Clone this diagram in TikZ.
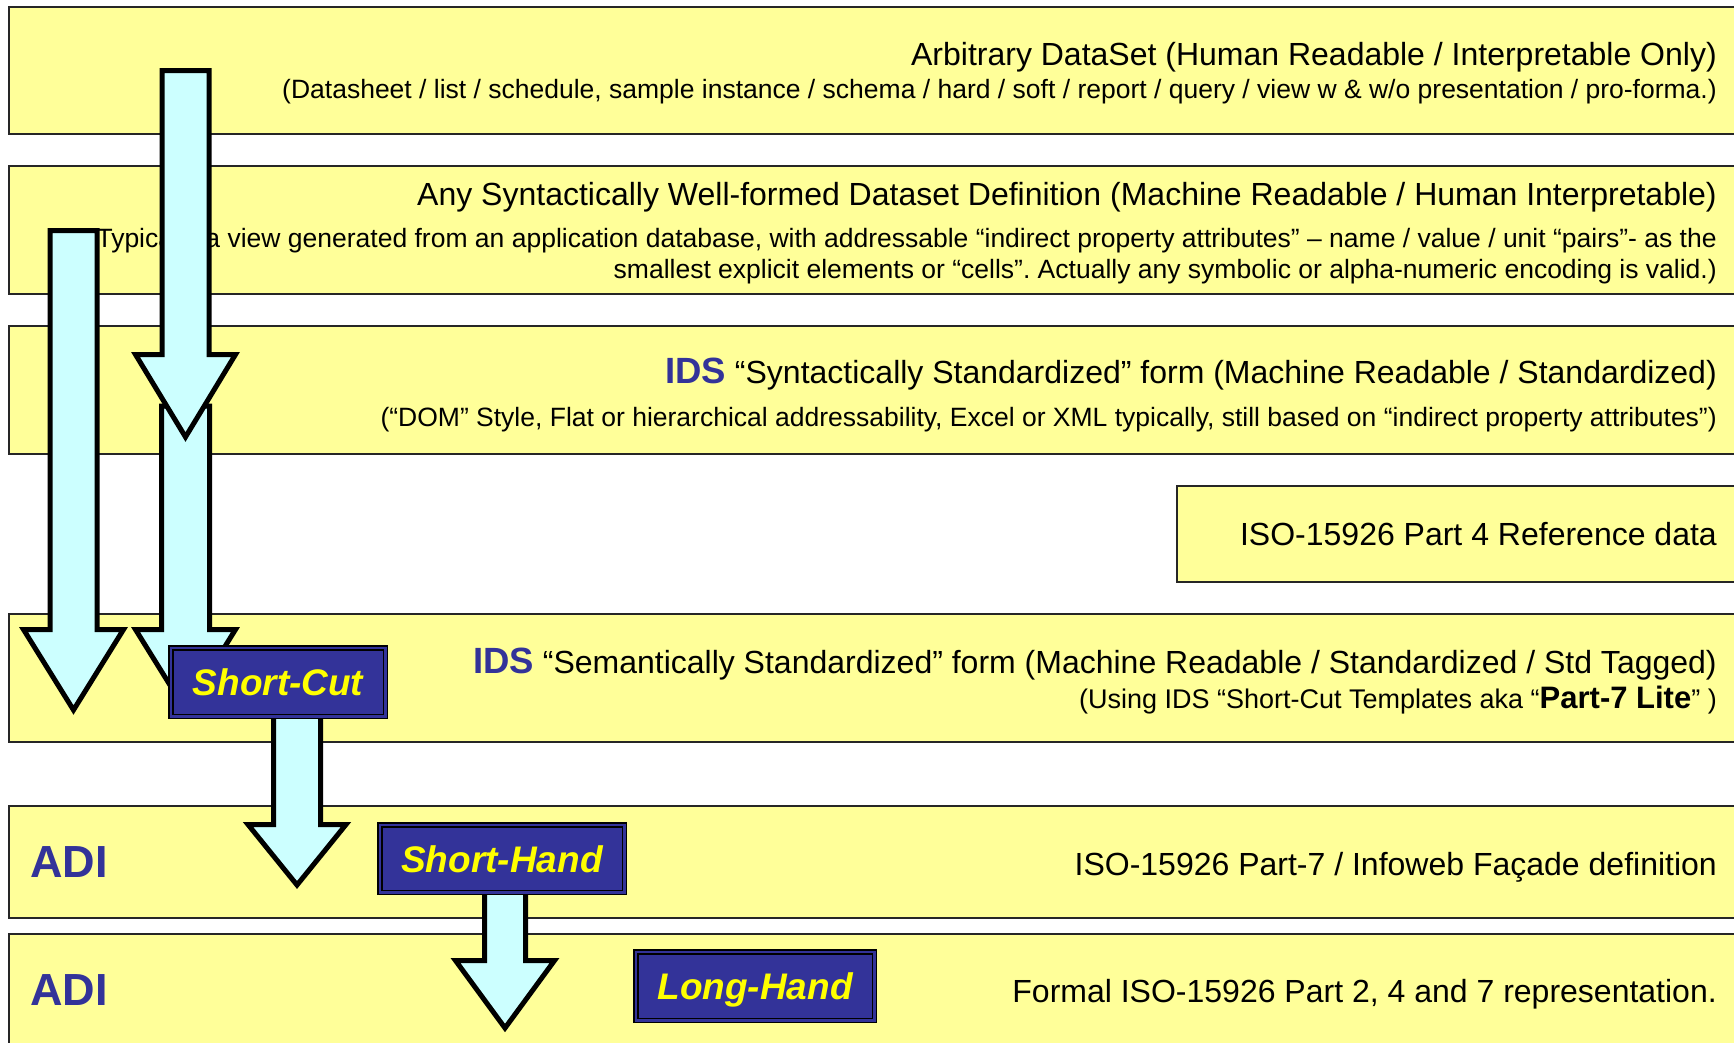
\documentclass[tikz,border=0pt]{standalone}
\usepackage{fontspec}
\setmainfont{Liberation Sans}
\frenchspacing
\definecolor{bandfill}{HTML}{FFFF99}
\definecolor{arrowfill}{HTML}{CCFFFF}
\definecolor{tagblue}{HTML}{333399}
\definecolor{tagyellow}{HTML}{FFFF00}

% downward block arrow: centre x, top, head base, tip, shaft half width, head half width
\newcommand\dnarrow[6]{%
  \draw[blockarrow] (#1-#5,#2) -- (#1+#5,#2) -- (#1+#5,#3) -- (#1+#6,#3)
    -- (#1,#4) -- (#1-#6,#3) -- (#1-#5,#3) -- cycle;}

\begin{document}
\begin{tikzpicture}[x=1pt,y=-1pt,
  band/.style={draw=black!85,line width=2pt,fill=bandfill},
  title/.style={anchor=base east,inner sep=0pt,font=\fontsize{32}{38}\selectfont},
  subtitle/.style={anchor=base east,inner sep=0pt,font=\fontsize{26.5}{31}\selectfont},
  adi/.style={anchor=base west,inner sep=0pt,text=tagblue,font=\fontsize{45}{50}\selectfont\bfseries},
  blockarrow/.style={draw=black,line width=5pt,fill=arrowfill,line join=miter,miter limit=10},
  tagbox/.style={draw=black,line width=1.5pt,double=tagblue,double distance=2.5pt,
    fill=tagblue,text=tagyellow,inner sep=0pt,text height=27pt,text depth=0pt,
    font=\fontsize{37}{42}\selectfont\bfseries\itshape},
]
\newcommand\ids{{\fontsize{36.5}{40}\selectfont\bfseries\color{tagblue}IDS}}
\useasboundingbox (0,0) rectangle (1734,1042);
\clip (0,0) rectangle (1734,1042);

% layers
\draw[band] (9,7) rectangle (1760,134);
\draw[band] (9,166) rectangle (1760,294);
\draw[band] (9,326) rectangle (1760,454);
\draw[band] (1177,486) rectangle (1760,582);
\draw[band] (9,614) rectangle (1760,742);
\draw[band] (9,806) rectangle (1760,918);
\draw[band] (9,934) rectangle (1760,1080);

\node[title] (t1) at (1717,65) {Arbitrary DataSet (Human Readable / Interpretable Only)};
\node[subtitle] (s1) at (1717,98) {(Datasheet / list / schedule, sample instance / schema / hard / soft / report / query / view w \& w/o presentation / pro-forma.)};

\node[title] (t2) at (1717,205) {Any Syntactically Well-formed Dataset Definition (Machine Readable / Human Interpretable)};
\node[subtitle] (s2a) at (1717,247) {Typically a view generated from an application database, with addressable “indirect property attributes” – name / value / unit “pairs”- as the};
\node[subtitle] (s2b) at (1717,278) {smallest explicit elements or “cells”. Actually any symbolic or alpha-numeric encoding is valid.)};

\node[title] (t3) at (1717,383) {\ids{} “Syntactically Standardized” form (Machine Readable / Standardized)};
\node[subtitle] (s3) at (1717,426) {(“DOM” Style, Flat or hierarchical addressability, Excel or XML typically, still based on “indirect property attributes”)};

\node[title] (rd) at (1717,545) {ISO-15926 Part 4 Reference data};

\node[title] (t4) at (1717,673) {\ids{} “Semantically Standardized” form (Machine Readable / Standardized / Std Tagged)};
\node[subtitle] (s4) at (1717,708) {\fontsize{27}{31}\selectfont(Using IDS “Short-Cut Templates aka “{\fontsize{31}{35}\selectfont\bfseries Part-7 Lite}” )};

\node[adi] (adi1) at (30,877) {ADI};
\node[title] (t5) at (1717,875) {ISO-15926 Part-7 / Infoweb Façade definition};

\node[adi] (adi2) at (30,1005) {ADI};
\node[title] (t6) at (1717,1002) {Formal ISO-15926 Part 2, 4 and 7 representation.};

% flow arrows
\dnarrow{73.5}{230.5}{629.5}{710}{23.5}{50}
\dnarrow{185.5}{406}{629.5}{710}{24}{50}
\dnarrow{185.5}{70.5}{354.5}{437}{23.5}{50}

\dnarrow{297}{700}{824.5}{885}{23.5}{49}
\node[tagbox,minimum width=214.5pt,minimum height=68.5pt] (sc) at (278,682) {Short-Cut};

\dnarrow{505}{880}{960.5}{1028}{20.5}{49.5}
\node[tagbox,minimum width=244.5pt,minimum height=67.5pt] (sh) at (502,858.5) {Short-Hand};

\node[tagbox,minimum width=238.5pt,minimum height=68.5pt] (lh) at (755,986) {Long-Hand};
\end{tikzpicture}
\end{document}
